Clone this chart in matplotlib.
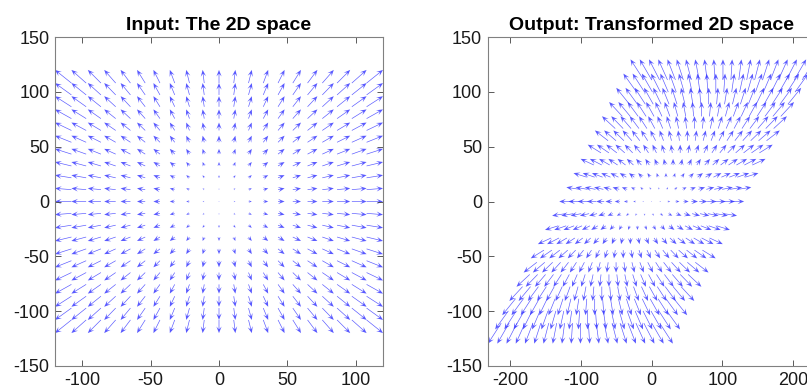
import numpy as np
import matplotlib
matplotlib.use("Agg")
import matplotlib.pyplot as plt

# ---- data ----
grid_coords = [-120, -108, -96, -84, -72, -60, -48, -36, -24, -12, 0,
               12, 24, 36, 48, 60, 72, 84, 96, 108, 120]
left_arrow_scale = 0.10      # vector = position * scale (input space)
right_arrow_scale = 0.156    # same vectors, autoscaled on the sheared grid
shear_matrix = [[1.09, 0.84],
                [0.00, 1.08]]
left_xticks = [-100, -50, 0, 50, 100]
right_xticks = [-200, -100, 0, 100, 200]
yticks = [-150, -100, -50, 0, 50, 100, 150]
titles = ["Input: The 2D space", "Output: Transformed 2D space"]

plt.rcParams['font.family'] = ['Liberation Sans', 'DejaVu Sans']
plt.rcParams['axes.unicode_minus'] = False

X, Y = np.meshgrid(np.array(grid_coords, float), np.array(grid_coords, float))
M = np.array(shear_matrix)
Xt = M[0, 0] * X + M[0, 1] * Y
Yt = M[1, 0] * X + M[1, 1] * Y

fig = plt.figure(figsize=(8.07, 3.91), dpi=100)
W, H = 807, 391
ax1 = fig.add_axes([55 / W, 25 / H, 328 / W, 329 / H])
ax2 = fig.add_axes([487.7 / W, 25 / H, 328 / W, 329 / H])

qkw = dict(angles='xy', scale_units='xy', scale=1.0, pivot='tip',
           color='#3030ff', alpha=0.8, width=0.0020,
           headwidth=8, headlength=10, headaxislength=6, linewidth=0)

ax1.quiver(X, Y, X * left_arrow_scale, Y * left_arrow_scale, **qkw)
ax2.quiver(Xt, Yt, X * right_arrow_scale, Y * right_arrow_scale, **qkw)

ax1.set_xlim(-120, 120)
ax2.set_xlim(-232, 232)
for ax, xt, t in [(ax1, left_xticks, titles[0]), (ax2, right_xticks, titles[1])]:
    ax.set_ylim(-150, 150)
    ax.set_xticks(xt)
    ax.set_yticks(yticks)
    ax.tick_params(direction='in', top=True, right=True, length=4,
                   width=0.6, color='#404040', labelsize=13,
                   labelcolor='#1a1a1a', pad=4)
    for s in ax.spines.values():
        s.set_color('#808080')
        s.set_linewidth(0.8)
    ax.set_title(t, fontsize=14, fontweight='bold', pad=5)

fig.savefig("out.png", dpi=100)
